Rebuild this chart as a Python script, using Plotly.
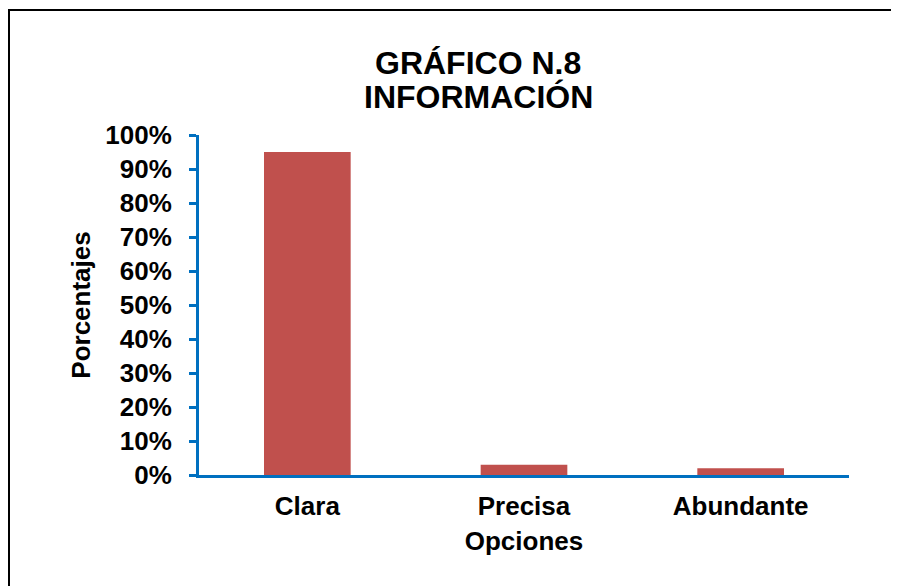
import plotly.graph_objects as go

# data
categorias = ["Clara", "Precisa", "Abundante"]
porcentajes = [0.95, 0.03, 0.02]
titulo = ["GRÁFICO N.8", "INFORMACIÓN"]
eje_x = "Opciones"
eje_y = "Porcentajes"

FONT = "Arial, Liberation Sans, sans-serif"
AZUL = "#0070C0"
ROJO = "#C0504D"

# the page puts the figure 8px in from the corner, so pixel targets are shifted back by OFF
OFF = 8
W, H = 899, 586
L, R, T, B = 199 - OFF, 50 + OFF, 135 - OFF, 111 + OFF
pw, ph = W - L - R, H - T - B


def px_x(x):
  return (x - OFF - L) / pw


def px_y(y):
  return (H - B - (y - OFF)) / ph


fig = go.Figure()
fig.add_trace(go.Bar(x=categorias, y=porcentajes,
                     marker=dict(color=ROJO, line=dict(width=0)),
                     width=0.4))

annots = []
for i, line in enumerate(titulo):
  annots.append(dict(text=line, xref="paper", yref="paper",
                     x=px_x(478), y=px_y(63 + 34 * i),
                     xanchor="center", yanchor="middle", showarrow=False,
                     font=dict(family=FONT, size=32, color="black", weight="bold")))

fig.update_layout(
  width=W, height=H,
  margin=dict(l=L, r=R, t=T, b=B),
  paper_bgcolor="white", plot_bgcolor="white",
  showlegend=False,
  annotations=annots,
  font=dict(family=FONT, size=26, color="black", weight="bold"),
  xaxis=dict(showline=True, linecolor=AZUL, linewidth=3, ticks="",
             showgrid=False, zeroline=False, ticklabelstandoff=6,
             title=dict(text=eje_x, standoff=12,
                        font=dict(family=FONT, size=26, color="black", weight="bold")),
             tickfont=dict(family=FONT, size=26, color="black", weight="bold")),
  yaxis=dict(range=[0, 1], dtick=0.1, tickformat=".0%",
             showline=True, linecolor=AZUL, linewidth=3,
             ticks="outside", ticklen=7, tickwidth=3, tickcolor=AZUL,
             showgrid=False, zeroline=False, ticklabelstandoff=12,
             title=dict(text=eje_y, standoff=8,
                        font=dict(family=FONT, size=26, color="black", weight="bold")),
             tickfont=dict(family=FONT, size=26, color="black", weight="bold")),
  shapes=[dict(type="rect", xref="paper", yref="paper",
               x0=px_x(9), x1=px_x(920), y0=px_y(610), y1=px_y(10),
               line=dict(color="black", width=2), layer="below")],
)

fig.write_html("out.html")
